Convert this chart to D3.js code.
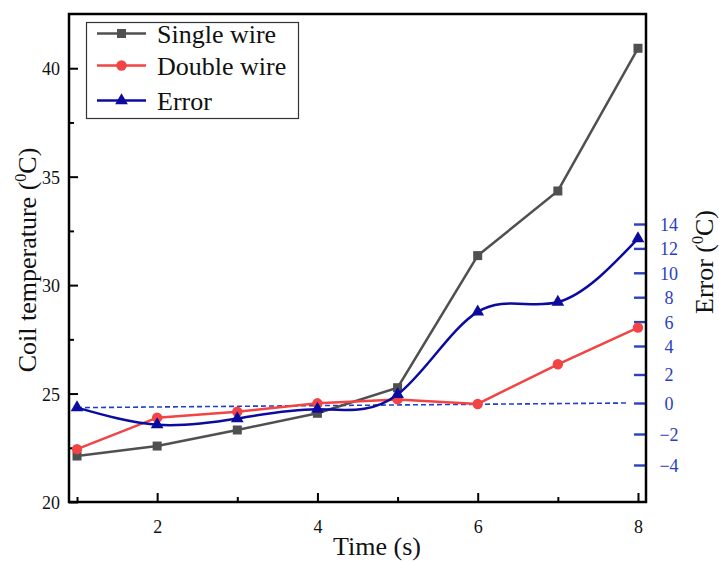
<!DOCTYPE html>
<html><head><meta charset="utf-8">
<script src="https://cdn.jsdelivr.net/npm/d3@7"></script>
<style>body{margin:0;background:#fff}svg{display:block}svg text{font-family:"Liberation Serif","Times New Roman",serif !important}</style>
</head><body>
<svg id="c" width="719" height="562"></svg>
<script>
const times = [1, 2, 3, 4, 5, 6, 7, 8];
const singleWire = [22.12, 22.58, 23.32, 24.09, 25.27, 31.36, 34.34, 40.92];
const doubleWire = [22.44, 23.89, 24.16, 24.55, 24.73, 24.52, 26.35, 28.04];
const errorVals = [-0.3, -1.4, -1.0, -0.4, 0.6, 6.8, 7.6, 12.8];
const zeroLineX = [1, 7.88];
const zeroLineErr = [-0.3, 0];
const xTicks = [2, 4, 6, 8];
const xMinorTicks = [1, 3, 5, 7];
const yTicks = [20, 25, 30, 35, 40];
const yMinorTicks = [22.5, 27.5, 32.5, 37.5];
const errTicks = [-4, -2, 0, 2, 4, 6, 8, 10, 12, 14];
const seriesNames = ["Single wire", "Double wire", "Error"];

const FONT = "Liberation Serif";
const svg = d3.select("#c");
const L = 69, R = 646, T = 14, B = 502;
const x = d3.scaleLinear().domain([0.9, 8.1]).range([L, R]);
const y = d3.scaleLinear().domain([20, 42.5]).range([B, T]);
// right axis in the reference is not evenly spaced
const ye = d3.scaleLinear().domain([-4, 0, 4, 14]).range([465, 403, 346, 224]);

const gray = "#505050", red = "#f24444", blue = "#0b0ba0", dashBlue = "#2040c0", tickBlue = "#2a40c0";

// dashed zero line
svg.append("line")
  .attr("x1", x(zeroLineX[0])).attr("y1", ye(zeroLineErr[0]))
  .attr("x2", x(zeroLineX[1])).attr("y2", ye(zeroLineErr[1]))
  .attr("stroke", dashBlue).attr("stroke-width", 1.6).attr("stroke-dasharray", "5,3");

// axes
const gx = svg.append("g").attr("transform", `translate(0,${B})`)
  .call(d3.axisBottom(x).tickValues(xTicks).tickSizeInner(-9).tickSizeOuter(0).tickPadding(18).tickFormat(d3.format("d")));
const gxm = svg.append("g").attr("transform", `translate(0,${B})`)
  .call(d3.axisBottom(x).tickValues(xMinorTicks).tickSizeInner(-5).tickSizeOuter(0).tickFormat(""));
const gy = svg.append("g").attr("transform", `translate(${L},0)`)
  .call(d3.axisLeft(y).tickValues(yTicks).tickSizeInner(-9).tickSizeOuter(0).tickPadding(9));
const gym = svg.append("g").attr("transform", `translate(${L},0)`)
  .call(d3.axisLeft(y).tickValues(yMinorTicks).tickSizeInner(-5).tickSizeOuter(0).tickFormat(""));
const ge = svg.append("g").attr("transform", `translate(${R},0)`)
  .call(d3.axisRight(ye).tickValues(errTicks).tickSizeInner(-12).tickSizeOuter(0).tickPadding(0));
[gx, gxm, gy, gym, ge].forEach(g => { g.select(".domain").remove(); g.attr("font-family", FONT); });
[gx, gxm, gy, gym].forEach(g => g.selectAll(".tick line").attr("stroke", "#000").attr("stroke-width", 2));
gx.selectAll(".tick text").attr("font-size", 18).attr("fill", "#111");
gy.selectAll(".tick text").attr("font-size", 18).attr("fill", "#111").attr("dy", "0.36em");
ge.selectAll(".tick line").attr("stroke", tickBlue).attr("stroke-width", 2.4);
ge.selectAll(".tick text").attr("font-size", 18).attr("fill", tickBlue)
  .attr("text-anchor", "middle").attr("x", 23).attr("dy", "0.36em");

// frame
svg.append("rect").attr("x", L).attr("y", T).attr("width", R - L).attr("height", B - T)
  .attr("fill", "none").attr("stroke", "#000").attr("stroke-width", 2.5);

// series
const lineS = d3.line().x((d, i) => x(times[i])).y(d => y(d));
const lineE = d3.line().x((d, i) => x(times[i])).y(d => ye(d)).curve(d3.curveNatural);

svg.append("path").datum(singleWire).attr("d", lineS).attr("fill", "none").attr("stroke", gray).attr("stroke-width", 2.5);
svg.selectAll(".sq").data(singleWire).join("rect").attr("class", "sq")
  .attr("x", (d, i) => x(times[i]) - 4.5).attr("y", d => y(d) - 4.5).attr("width", 9).attr("height", 9).attr("fill", gray);

svg.append("path").datum(doubleWire).attr("d", lineS).attr("fill", "none").attr("stroke", red).attr("stroke-width", 2.5);
svg.selectAll(".ci").data(doubleWire).join("circle").attr("class", "ci")
  .attr("cx", (d, i) => x(times[i])).attr("cy", d => y(d)).attr("r", 5.2).attr("fill", red);

svg.append("path").datum(errorVals).attr("d", lineE).attr("fill", "none").attr("stroke", blue).attr("stroke-width", 2.5);
const tri = d3.symbol().type(d3.symbolTriangle).size(70);
svg.selectAll(".tr").data(errorVals).join("path").attr("class", "tr")
  .attr("transform", (d, i) => `translate(${x(times[i])},${ye(d)})`).attr("d", tri).attr("fill", blue);

// legend
const lg = svg.append("g").attr("font-family", FONT);
lg.append("rect").attr("x", 86.5).attr("y", 22.5).attr("width", 212).attr("height", 96)
  .attr("fill", "#fff").attr("stroke", "#333").attr("stroke-width", 1.2);
const legY = [33.5, 65.5, 100.5];
const legC = [gray, red, blue];
seriesNames.forEach((n, i) => {
  lg.append("line").attr("x1", 97).attr("x2", 146).attr("y1", legY[i]).attr("y2", legY[i])
    .attr("stroke", legC[i]).attr("stroke-width", 2.5);
  if (i === 0) lg.append("rect").attr("x", 121.5 - 4.5).attr("y", legY[i] - 4.5).attr("width", 9).attr("height", 9).attr("fill", gray);
  if (i === 1) lg.append("circle").attr("cx", 121.5).attr("cy", legY[i]).attr("r", 5.2).attr("fill", red);
  if (i === 2) lg.append("path").attr("transform", `translate(121.5,${legY[i]})`).attr("d", tri).attr("fill", blue);
  lg.append("text").attr("x", 157).attr("y", legY[i] + 9.2).attr("font-size", 26).attr("fill", "#111").text(n);
});

// axis titles
const yl = svg.append("text").attr("transform", "translate(36,260) rotate(-90)")
  .attr("text-anchor", "middle").attr("font-size", 26).attr("fill", "#111").attr("font-family", FONT);
yl.append("tspan").text("Coil temperature (");
yl.append("tspan").attr("font-size", 16).attr("dy", -10).text("0");
yl.append("tspan").attr("dy", 10).text("C)");

const el = svg.append("text").attr("transform", "translate(713,262) rotate(-90)")
  .attr("text-anchor", "middle").attr("font-size", 26).attr("fill", "#111").attr("font-family", FONT);
el.append("tspan").text("Error (");
el.append("tspan").attr("font-size", 16).attr("dy", -10).text("0");
el.append("tspan").attr("dy", 10).text("C)");

svg.append("text").attr("x", 377).attr("y", 555).attr("text-anchor", "middle").attr("font-family", FONT)
  .attr("font-size", 26).attr("fill", "#111").text("Time (s)");
</script>
</body></html>
